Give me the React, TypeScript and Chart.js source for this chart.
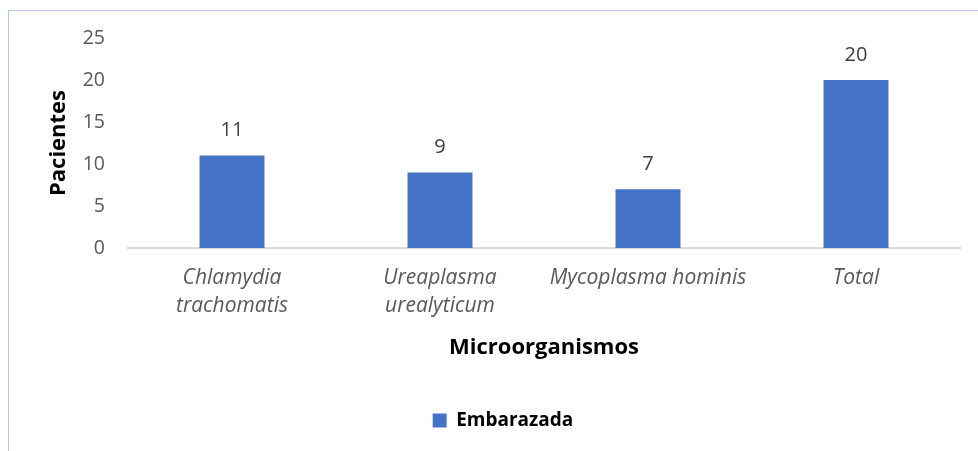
import React, { useEffect, useRef } from "react";
import { Chart, registerables } from "chart.js";

Chart.register(...registerables);

const categories: (string | string[])[] = [
  ["Chlamydia", "trachomatis"],
  ["Ureaplasma", "urealyticum"],
  "Mycoplasma hominis",
  "Total",
];
const embarazada: number[] = [11, 9, 7, 20];
const seriesName = "Embarazada";
const yTitle = "Pacientes";
const xTitle = "Microorganismos";

const FONT = "'Open Sans', Lato, sans-serif";

const valueLabels = {
  id: "valueLabels",
  afterDatasetsDraw(chart: any) {
    const ctx = chart.ctx;
    ctx.save();
    ctx.font = `20px ${FONT}`;
    ctx.fillStyle = "#404040";
    ctx.textAlign = "center";
    ctx.textBaseline = "middle";
    chart.data.datasets.forEach((ds: any, di: number) => {
      const meta = chart.getDatasetMeta(di);
      meta.data.forEach((bar: any, i: number) => {
        ctx.fillText(String(ds.data[i]), bar.x, bar.y - 25);
      });
    });
    ctx.restore();
  },
};

const legendShift = {
  id: "legendShift",
  afterLayout(chart: any) {
    const lg = chart.legend;
    if (lg) {
      lg.left += 23;
      lg.right += 23;
    }
  },
};

export default function App() {
  const ref = useRef<HTMLCanvasElement | null>(null);
  useEffect(() => {
    if (!ref.current) return;
    const chart = new Chart(ref.current, {
      type: "bar",
      data: {
        labels: categories,
        datasets: [
          {
            label: seriesName,
            data: embarazada,
            backgroundColor: "#4472C4",
            borderWidth: 0,
            categoryPercentage: 1,
            barPercentage: 0.3125,
          },
        ],
      },
      options: {
        animation: false,
        responsive: false,
        maintainAspectRatio: false,
        layout: { padding: { left: 0, right: 18, top: 38, bottom: 11 } },
        plugins: {
          tooltip: { enabled: false },
          legend: {
            position: "bottom",
            labels: {
              boxWidth: 14,
              boxHeight: 14,
              padding: 10,
              color: "#000000",
              font: { family: FONT, size: 19, weight: "bold" },
            },
          },
        },
        scales: {
          x: {
            grid: { display: false, drawTicks: false },
            border: { display: true, color: "#D9D9D9", width: 2 },
            ticks: {
              color: "#595959",
              padding: 16,
              maxRotation: 0,
              autoSkip: false,
              font: { family: FONT, size: 21, style: "italic", lineHeight: 1.33 },
            },
            title: {
              display: true,
              text: xTitle,
              color: "#000000",
              font: { family: FONT, size: 22, weight: "bold", lineHeight: 1.2 },
              padding: { top: 0, bottom: 40 },
            },
            afterFit: (s: any) => {
              s.height = 153;
            },
          },
          y: {
            min: 0,
            max: 25,
            ticks: {
              stepSize: 5,
              color: "#595959",
              padding: 23,
              font: { family: FONT, size: 19.5 },
            },
            grid: { display: false, drawTicks: false },
            border: { display: false },
            title: {
              display: true,
              text: yTitle,
              color: "#000000",
              font: { family: FONT, size: 22, weight: "bold", lineHeight: 1.2 },
              padding: { top: 46, bottom: 0 },
            },
            afterFit: (s: any) => {
              s.width = 128;
            },
          },
        },
      },
      plugins: [valueLabels, legendShift],
    });
    return () => chart.destroy();
  }, []);

  return (
    <div style={{ position: "absolute", left: 0, top: 0, width: 978, height: 451, background: "#fff" }}>
      <div
        style={{
          position: "absolute",
          left: 8,
          top: 10,
          width: 1000,
          height: 500,
          border: "1px solid #B4C7E7",
          boxSizing: "border-box",
        }}
      />
      <canvas ref={ref} width={978} height={451} style={{ position: "absolute", left: 0, top: 0 }} />
    </div>
  );
}
